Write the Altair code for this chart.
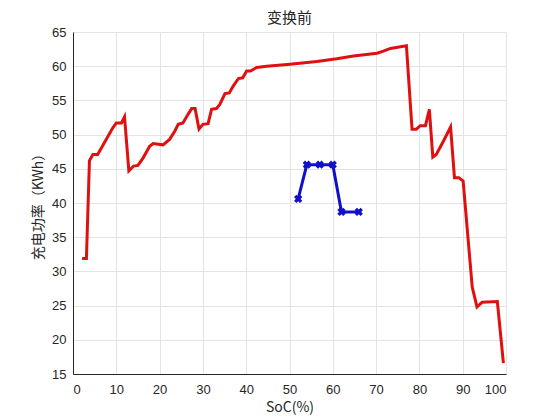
import altair as alt
import pandas as pd

red_soc = [2.1, 3.1, 3.8, 4.6, 5.7, 9.2, 10.0, 11.2, 11.9, 12.9, 14.0, 15.0, 16.2, 17.7, 18.5,
           20.8, 22.3, 23.5, 24.3, 25.4, 26.6, 27.4, 28.2, 29.1, 30.0, 31.2, 32.0, 33.1, 33.9,
           35.1, 36.1, 37.0, 38.2, 39.2, 40.1, 41.0, 42.4, 44.7, 50.1, 56.3, 60.9, 64.8, 70.2,
           71.7, 73.3, 77.0, 78.3, 79.3, 80.2, 81.4, 82.3, 83.1, 83.9, 85.6, 87.2, 88.1, 89.1,
           90.1, 92.2, 93.3, 94.5, 98.0, 99.4]
red_power = [31.9, 31.9, 46.2, 47.1, 47.1, 51.0, 51.7, 51.7, 52.6, 44.7, 45.4, 45.5, 46.6, 48.3, 48.7,
             48.5, 49.3, 50.5, 51.5, 51.7, 53.0, 53.8, 53.8, 50.8, 51.5, 51.6, 53.7, 53.8, 54.4,
             56.0, 56.1, 57.1, 58.2, 58.3, 59.3, 59.3, 59.8, 60.0, 60.3, 60.7, 61.1, 61.5, 61.9,
             62.2, 62.6, 63.0, 50.8, 50.8, 51.3, 51.3, 53.7, 46.7, 47.1, 49.1, 51.1, 43.7, 43.7,
             43.2, 27.7, 24.8, 25.5, 25.6, 16.6]

blue_soc = [52, 54, 57, 60, 62, 66]
blue_power = [40.6, 45.6, 45.6, 45.6, 38.7, 38.7]

x_ticks = [0, 10, 20, 30, 40, 50, 60, 70, 80, 90, 100]
y_ticks = [15, 20, 25, 30, 35, 40, 45, 50, 55, 60, 65]

red_df = pd.DataFrame({"soc": red_soc, "p": red_power, "i": range(len(red_soc))})
blue_df = pd.DataFrame({"soc": blue_soc, "p": blue_power, "i": range(len(blue_soc))})

x_enc = alt.X("soc:Q", scale=alt.Scale(domain=[0, 100], nice=False),
              axis=alt.Axis(values=x_ticks, tickCount=11, title="SoC(%)", grid=True,
                            labelOverlap=False))
y_enc = alt.Y("p:Q", scale=alt.Scale(domain=[15, 65], nice=False, zero=False),
              axis=alt.Axis(values=y_ticks, tickCount=11, title="充电功率（KWh）", grid=True,
                            labelOverlap=False))

red = alt.Chart(red_df).mark_line(color="#e01010", strokeWidth=3).encode(
    x=x_enc, y=y_enc, order="i:Q")

blue_line = alt.Chart(blue_df).mark_line(color="#1010c8", strokeWidth=3).encode(
    x=x_enc, y=y_enc, order="i:Q")
blue_pts = alt.Chart(blue_df).mark_point(shape="cross", angle=45, filled=True,
                                         color="#1010c8", size=70, opacity=1).encode(
    x=x_enc, y=y_enc)

chart = alt.layer(red, blue_line, blue_pts).properties(
    width=433, height=342,
    title=alt.TitleParams("变换前", font="Noto Sans CJK SC", fontSize=15,
                          fontWeight="normal", color="#262626", offset=0),
    autosize=alt.AutoSizeParams(type="none"),
    padding={"left": 65, "top": 24, "right": 30, "bottom": 45},
).configure_view(stroke=None).configure_axis(
    domainColor="#262626", domainWidth=1, gridColor="#e3e3e3", gridWidth=1,
    labelColor="#262626", labelFont="Liberation Sans", labelFontSize=13,
    titleFont="Noto Sans CJK SC", titleFontSize=14, titleFontWeight="normal",
    titleColor="#262626", ticks=False, labelPadding=7, labelOverlap=False,
).configure_axisX(labelPadding=9, titlePadding=4).configure_axisY(titlePadding=6)

chart.save("out.html", embed_options={"renderer": "svg", "actions": False})
